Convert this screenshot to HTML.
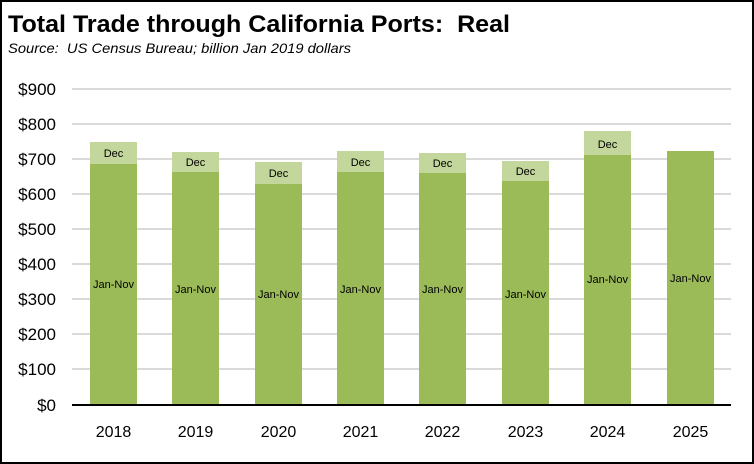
<!DOCTYPE html>
<html><head><style>
body{margin:0;background:#fff}
svg{display:block}
</style></head><body>
<svg width="754" height="464" xmlns="http://www.w3.org/2000/svg" font-family="'Liberation Sans', sans-serif">
<rect x="1" y="1" width="752" height="462" fill="#fff" stroke="#000" stroke-width="2"/>
<text x="8" y="32" font-size="24" font-weight="bold" fill="#000" textLength="502" lengthAdjust="spacingAndGlyphs">Total Trade through California Ports:&#160; Real</text>
<text x="8" y="53" font-size="14" font-style="italic" fill="#000" textLength="343" lengthAdjust="spacingAndGlyphs">Source:&#160; US Census Bureau; billion Jan 2019 dollars</text>
<g stroke="#d9d9d9" stroke-width="2">
<line x1="72" x2="731" y1="89" y2="89"/><line x1="72" x2="731" y1="124" y2="124"/>
<line x1="72" x2="731" y1="159" y2="159"/><line x1="72" x2="731" y1="194" y2="194"/>
<line x1="72" x2="731" y1="229" y2="229"/><line x1="72" x2="731" y1="264" y2="264"/>
<line x1="72" x2="731" y1="299" y2="299"/><line x1="72" x2="731" y1="334" y2="334"/>
<line x1="72" x2="731" y1="369" y2="369"/>
</g>
<g font-size="17" fill="#000" text-anchor="end">
<text x="56" y="95">$900</text><text x="56" y="130">$800</text><text x="56" y="165">$700</text>
<text x="56" y="200">$600</text><text x="56" y="235">$500</text><text x="56" y="270">$400</text>
<text x="56" y="305">$300</text><text x="56" y="340">$200</text><text x="56" y="375">$100</text>
<text x="56" y="411">$0</text>
</g>
<g id="bars" font-size="11" text-anchor="middle" fill="#000">
<rect x="90" y="164" width="47" height="241" fill="#9bbb59"/><rect x="90" y="142" width="47" height="22" fill="#c3d69b"/>
<text x="113.5" y="157">Dec</text><text x="113.5" y="288">Jan-Nov</text>
<rect x="172" y="172" width="47" height="233" fill="#9bbb59"/><rect x="172" y="152" width="47" height="20" fill="#c3d69b"/>
<text x="195.5" y="166">Dec</text><text x="195.5" y="293">Jan-Nov</text>
<rect x="255" y="184" width="47" height="221" fill="#9bbb59"/><rect x="255" y="162" width="47" height="22" fill="#c3d69b"/>
<text x="278.5" y="177">Dec</text><text x="278.5" y="298">Jan-Nov</text>
<rect x="337" y="172" width="47" height="233" fill="#9bbb59"/><rect x="337" y="151" width="47" height="21" fill="#c3d69b"/>
<text x="360.5" y="166">Dec</text><text x="360.5" y="293">Jan-Nov</text>
<rect x="419" y="173" width="47" height="232" fill="#9bbb59"/><rect x="419" y="153" width="47" height="20" fill="#c3d69b"/>
<text x="442.5" y="167">Dec</text><text x="442.5" y="293">Jan-Nov</text>
<rect x="502" y="181" width="47" height="224" fill="#9bbb59"/><rect x="502" y="161" width="47" height="20" fill="#c3d69b"/>
<text x="525.5" y="175">Dec</text><text x="525.5" y="298">Jan-Nov</text>
<rect x="584" y="155" width="47" height="250" fill="#9bbb59"/><rect x="584" y="131" width="47" height="24" fill="#c3d69b"/>
<text x="607.5" y="148">Dec</text><text x="607.5" y="283">Jan-Nov</text>
<rect x="667" y="151" width="47" height="254" fill="#9bbb59"/>
<text x="690.5" y="282">Jan-Nov</text>
</g>
<line x1="72" x2="731" y1="405" y2="405" stroke="#000" stroke-width="2"/>
<g font-size="16" fill="#000" text-anchor="middle">
<text x="113.5" y="437">2018</text><text x="195.5" y="437">2019</text><text x="278.5" y="437">2020</text>
<text x="360.5" y="437">2021</text><text x="442.5" y="437">2022</text><text x="525.5" y="437">2023</text>
<text x="607.5" y="437">2024</text><text x="690.5" y="437">2025</text>
</g>
</svg>
</body></html>
